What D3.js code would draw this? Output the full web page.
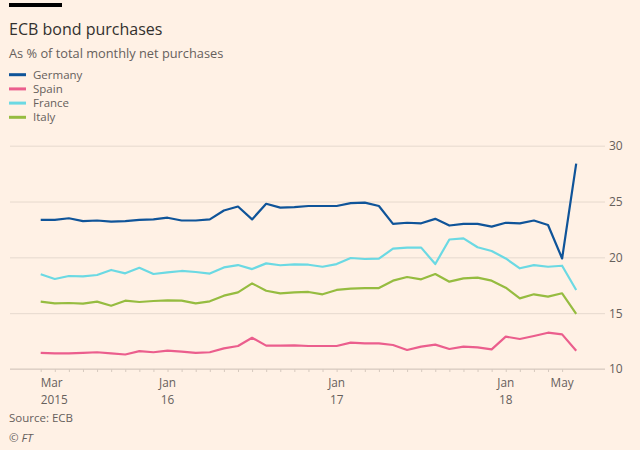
<!DOCTYPE html>
<html>
<head>
<meta charset="utf-8">
<script src="https://cdn.jsdelivr.net/npm/d3@7"></script>
<style>
  body { margin: 0; background: #fff1e5; }
  svg { display: block; font-family: "Open Sans", sans-serif; }
</style>
</head>
<body>
<svg id="chart"></svg>
<script>
const width = 640;
const height = 450;

// monthly net purchases, share in %, one value per month (39 points)
const germany = [23.35, 23.35, 23.5, 23.25, 23.3, 23.2, 23.25, 23.35, 23.4, 23.55, 23.3, 23.3, 23.4,
                 24.2, 24.55, 23.4, 24.8, 24.45, 24.5, 24.6, 24.6, 24.6, 24.85, 24.9, 24.6, 23.0,
                 23.1, 23.05, 23.45, 22.85, 23.0, 23.0, 22.75, 23.1, 23.05, 23.3, 22.9, 19.9, 28.4];
const spain = [11.45, 11.4, 11.4, 11.45, 11.5, 11.4, 11.3, 11.6, 11.5, 11.65, 11.55, 11.45, 11.5,
               11.85, 12.06, 12.8, 12.09, 12.09, 12.12, 12.06, 12.06, 12.06, 12.36, 12.3, 12.3, 12.15,
               11.7, 12.0, 12.18, 11.79, 12.0, 11.94, 11.76, 12.9, 12.69, 12.96, 13.25, 13.1, 11.64];
const france = [18.48, 18.06, 18.33, 18.3, 18.42, 18.87, 18.57, 19.07, 18.51, 18.66, 18.78, 18.69, 18.55,
                19.1, 19.31, 18.95, 19.46, 19.29, 19.37, 19.34, 19.16, 19.4, 19.94, 19.85, 19.88, 20.78,
                20.87, 20.87, 19.4, 21.6, 21.7, 20.9, 20.57, 19.9, 19.02, 19.31, 19.16, 19.25, 17.08];
const italy = [16.03, 15.88, 15.91, 15.85, 16.03, 15.67, 16.12, 16.0, 16.09, 16.15, 16.12, 15.88, 16.06,
               16.57, 16.86, 17.67, 17.01, 16.78, 16.87, 16.9, 16.69, 17.08, 17.2, 17.25, 17.25, 17.91,
               18.24, 18.03, 18.51, 17.82, 18.12, 18.18, 17.91, 17.28, 16.33, 16.69, 16.48, 16.78, 14.93];

const seriesNames = ["Germany", "Spain", "France", "Italy"];
const seriesColors = ["#0f5499", "#eb5e8d", "#6bd9e3", "#96bc40"];
const seriesValues = [germany, spain, france, italy];

const yTicks = [10, 15, 20, 25, 30];
const xTickIndex = [0, 9, 21, 33, 37];
const xTickTop = ["Mar", "Jan", "Jan", "Jan", "May"];
const xTickBottom = ["2015", "16", "17", "18", ""];

const svg = d3.select("#chart")
              .attr("width", width)
              .attr("height", height);

svg.append("rect").attr("width", width).attr("height", height).attr("fill", "#fff1e5");

const xScale = d3.scaleLinear()
                 .domain([0, germany.length - 1])
                 .range([40.7, 576.2]);
const yScale = d3.scaleLinear()
                 .domain([10, 30])
                 .range([369, 145.7]);

// header
svg.append("rect").attr("x", 9).attr("y", 3).attr("width", 53).attr("height", 4).attr("fill", "#000");
svg.append("text").attr("x", 9).attr("y", 35).attr("font-size", 16).attr("fill", "#33302e")
   .text("ECB bond purchases");
svg.append("text").attr("x", 9).attr("y", 58).attr("font-size", 12.8).attr("fill", "#66605c")
   .text("As % of total monthly net purchases");

const legend = svg.selectAll(".legend")
                  .data(seriesNames)
                  .enter()
                  .append("g")
                  .attr("class", "legend")
                  .attr("transform", (d, i) => `translate(9, ${74.7 + i * 14.2})`);
legend.append("line").attr("x1", 0).attr("x2", 17)
      .attr("stroke", (d, i) => seriesColors[i]).attr("stroke-width", 3);
legend.append("text").attr("x", 24).attr("y", 4).attr("font-size", 11.5).attr("fill", "#66605c")
      .text(d => d);

// grid + y labels on the right
const yAxis = d3.axisRight(yScale).tickValues(yTicks).tickSize(-595).tickPadding(4);
const gy = svg.append("g")
              .attr("transform", "translate(605, 0)")
              .call(yAxis);
gy.select(".domain").remove();
gy.selectAll(".tick line").attr("stroke", "#e6d9ce").attr("stroke-width", 1);
gy.selectAll(".tick text").attr("font-size", 12).attr("fill", "#66605c")
  .attr("font-family", "Open Sans, sans-serif");

// x axis: monthly ticks
const xAxis = d3.axisBottom(xScale).tickValues(d3.range(0, 38)).tickSize(3).tickFormat("");
const gx = svg.append("g")
              .attr("transform", `translate(0, ${yScale(10)})`)
              .call(xAxis);
gx.select(".domain").remove();
gx.selectAll(".tick line").attr("stroke", "#d7cabf");
gx.append("line").attr("x1", 10).attr("x2", 605).attr("stroke", "#d7cabf");

const xLabels = svg.selectAll(".xlab")
                   .data(xTickIndex)
                   .enter()
                   .append("text")
                   .attr("class", "xlab")
                   .attr("font-size", 11.8)
                   .attr("fill", "#66605c")
                   .attr("text-anchor", (d, i) => i === 0 ? "start" : "middle")
                   .attr("transform", d => `translate(${xScale(d)}, 0)`);
xLabels.append("tspan").attr("x", 0).attr("y", 387).text((d, i) => xTickTop[i]);
xLabels.append("tspan").attr("x", 0).attr("y", 404).text((d, i) => xTickBottom[i]);

// lines
const line = d3.line()
               .x((d, i) => xScale(i))
               .y(d => yScale(d));

svg.selectAll(".series")
   .data(seriesValues)
   .enter()
   .append("path")
   .attr("class", "series")
   .attr("fill", "none")
   .attr("stroke", (d, i) => seriesColors[i])
   .attr("stroke-width", 2.2)
   .attr("stroke-linejoin", "round")
   .attr("d", line);

// footer
svg.append("text").attr("x", 9).attr("y", 422).attr("font-size", 11.5).attr("fill", "#66605c")
   .text("Source: ECB");
svg.append("text").attr("x", 9).attr("y", 442).attr("font-size", 11.5).attr("font-style", "italic")
   .attr("fill", "#66605c").text("© FT");
</script>
</body>
</html>
